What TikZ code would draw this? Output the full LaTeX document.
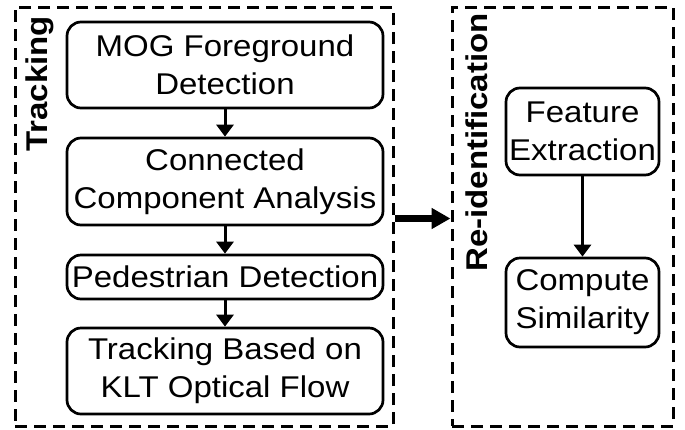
\documentclass[tikz,border=0pt]{standalone}
\usepackage{fontspec}
\setmainfont{Liberation Sans}[FakeStretch=1.1]
\usetikzlibrary{arrows.meta}

\begin{document}
\begin{tikzpicture}[x=1pt, y=-1pt,
  every node/.style={font=\fontsize{30}{38}\selectfont},
  stage/.style={draw, rounded corners=14pt, line width=2.7pt, align=center,
    inner sep=0pt, minimum width=316pt},
  panel/.style={draw, dash pattern=on 12pt off 7pt, line width=3pt, inner sep=0pt},
  paneltitle/.style={rotate=90, font=\fontsize{30}{38}\selectfont\bfseries},
  flow/.style={line width=3pt, -{Triangle[length=12pt,width=17pt]}},
  bigflow/.style={line width=7pt, -{Triangle[length=19pt,width=20pt]}}]
  \useasboundingbox (0,0) rectangle (685,429);
  % the two stages
  \node[panel, minimum width=378pt, minimum height=419pt] (track) at (204,216.5) {};
  \node[panel, minimum width=221pt, minimum height=419pt] (reid) at (562.5,216.5) {};
  \node[paneltitle] (tracklabel) at (40,84) {Tracking};
  \node[paneltitle] (reidlabel) at (477,142.5) {Re-identification};
  % tracking steps
  \node[stage, minimum height=86pt] (mog) at (225,65) {MOG Foreground\\Detection};
  \node[stage, minimum height=87pt] (ccl) at (225,181.5) {Connected\\Component Analysis};
  \node[stage, minimum height=44pt] (ped) at (225,277) {Pedestrian Detection};
  \node[stage, minimum height=86pt] (klt) at (225,371) {Tracking Based on\\KLT Optical Flow};
  % re-identification steps
  \node[stage, minimum width=153pt, minimum height=87pt] (feat) at (582.5,131.5) {Feature\\Extraction};
  \node[stage, minimum width=153pt, minimum height=89pt] (sim) at (582.5,302.5) {Compute\\Similarity};
  \draw[flow] (mog) -- (ccl);
  \draw[flow] (ccl) -- (ped);
  \draw[flow] (ped) -- (klt);
  \draw[flow] (feat) -- (sim);
  \draw[bigflow] ([yshift=-2pt]track.east) -- ([yshift=-2pt]reid.west);
\end{tikzpicture}
\end{document}
